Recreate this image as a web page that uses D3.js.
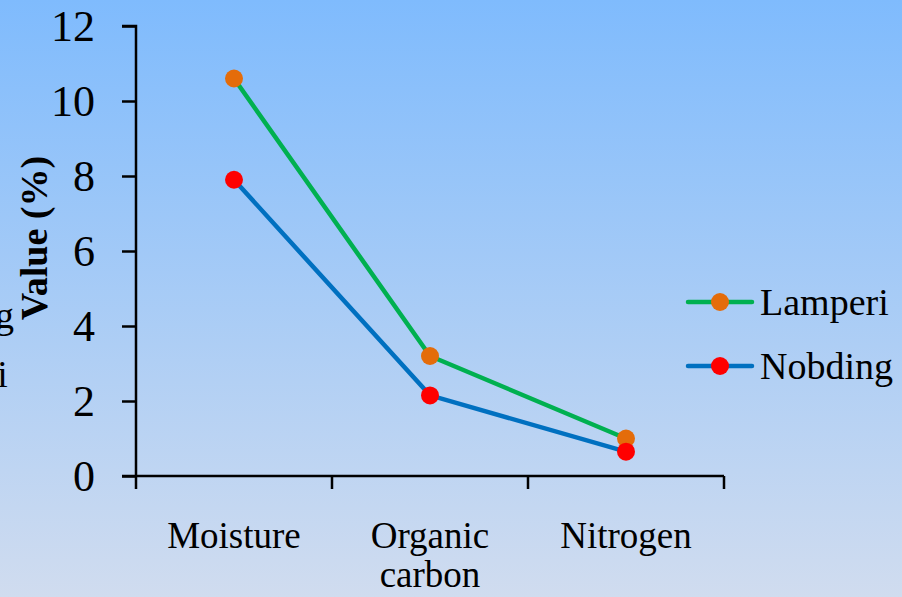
<!DOCTYPE html>
<html>
<head>
<meta charset="utf-8">
<script src="https://cdn.jsdelivr.net/npm/d3@7"></script>
<style>
  body { margin: 0; overflow: hidden; }
  text { font-family: "Liberation Serif", "Times New Roman", serif; fill: #000; }
</style>
</head>
<body>
<svg id="chart" width="902" height="597"></svg>
<script>
// Data -----------------------------------------------------------
const categories = [["Moisture"], ["Organic", "carbon"], ["Nitrogen"]];
const lamperi = [10.6, 3.2, 1.0];
const nobding = [7.9, 2.15, 0.65];
const yTicks = [0, 2, 4, 6, 8, 10, 12];
const seriesNames = ["Lamperi", "Nobding"];
// ------------------------------------------------------------

const svg = d3.select("#chart");
const serif = "'Liberation Serif', 'Times New Roman', serif";

// Pozadie s gradientom
const defs = svg.append("defs");
const grad = defs.append("linearGradient")
    .attr("id", "bg").attr("x1", 0).attr("y1", 0).attr("x2", 0).attr("y2", 1);
grad.append("stop").attr("offset", "0%").attr("stop-color", "#7fbbfd");
grad.append("stop").attr("offset", "100%").attr("stop-color", "#d0dcef");
svg.append("rect").attr("width", 902).attr("height", 597).attr("fill", "url(#bg)");

// Orezaná legenda z vedľajšieho grafu (vľavo za okrajom)
svg.append("text").attr("x", -119).attr("y", 328)
    .style("font-size", "38px").style("font-family", serif).text("Nobding");
svg.append("text").attr("x", -121).attr("y", 387)
    .style("font-size", "38px").style("font-family", serif).text("Lamperi");

// Škály
const x = d3.scaleBand().domain(d3.range(categories.length)).range([136, 724]);
const y = d3.scaleLinear().domain([0, 12]).range([476, 26]);

// Os Y
const yAxis = svg.append("g")
    .attr("transform", "translate(136,0)")
    .call(d3.axisLeft(y).tickValues(yTicks).tickSize(14).tickPadding(27).tickFormat(d3.format("d")));
yAxis.select(".domain").attr("stroke-width", 2.5).attr("d", "M-14,26H0V476");
yAxis.selectAll(".tick line").attr("stroke-width", 2.5);
yAxis.selectAll(".tick text").style("font-size", "44px")
    .style("font-family", serif).attr("dy", "0.34em");

// Os X
const xAxis = svg.append("g").attr("transform", "translate(0,476)");
xAxis.append("line").attr("x1", 122).attr("x2", 724).attr("stroke", "#000").attr("stroke-width", 2.5);
xAxis.selectAll(".xt")
    .data(d3.range(categories.length + 1))
    .join("line")
    .attr("x1", i => i < categories.length ? x(i) : x.range()[1])
    .attr("x2", i => i < categories.length ? x(i) : x.range()[1])
    .attr("y1", 0).attr("y2", 13)
    .attr("stroke", "#000").attr("stroke-width", 2.5);

// Popisky kategórií
categories.forEach((lines, i) => {
    const t = svg.append("text")
        .attr("x", x(i) + x.bandwidth() / 2)
        .attr("y", 548)
        .attr("text-anchor", "middle")
        .style("font-size", "37px").style("font-family", serif);
    lines.forEach((l, j) => {
        t.append("tspan").attr("x", x(i) + x.bandwidth() / 2).attr("dy", j === 0 ? 0 : 39).text(l);
    });
});

// Názov osi Y
svg.append("text")
    .attr("transform", "translate(47,238) rotate(-90)")
    .attr("text-anchor", "middle")
    .style("font-size", "38px").style("font-weight", "bold").style("font-family", serif)
    .text("Value (%)");

// Série
const series = [
    { name: seriesNames[0], values: lamperi, line: "#00b050", dot: "#e46c0a" },
    { name: seriesNames[1], values: nobding, line: "#0070c0", dot: "#ff0000" }
];

const lineGen = d3.line()
    .x((d, i) => x(i) + x.bandwidth() / 2)
    .y(d => y(d));

series.forEach(s => {
    svg.append("path").datum(s.values)
        .attr("d", lineGen)
        .attr("fill", "none")
        .attr("stroke", s.line)
        .attr("stroke-width", 4.5);
});
series.forEach(s => {
    svg.selectAll(null).data(s.values).join("circle")
        .attr("cx", (d, i) => x(i) + x.bandwidth() / 2)
        .attr("cy", d => y(d))
        .attr("r", 9)
        .attr("fill", s.dot);
});

// Legenda
series.forEach((s, i) => {
    const ly = 302 + i * 64;
    const g = svg.append("g");
    g.append("line").attr("x1", 688).attr("x2", 752).attr("y1", ly).attr("y2", ly)
        .attr("stroke", s.line).attr("stroke-width", 4.5).attr("stroke-linecap", "round");
    g.append("circle").attr("cx", 720).attr("cy", ly).attr("r", 9).attr("fill", s.dot);
    g.append("text").attr("x", 760).attr("y", ly + 13)
        .style("font-size", "38px").style("font-family", serif).text(s.name);
});
</script>
</body>
</html>
